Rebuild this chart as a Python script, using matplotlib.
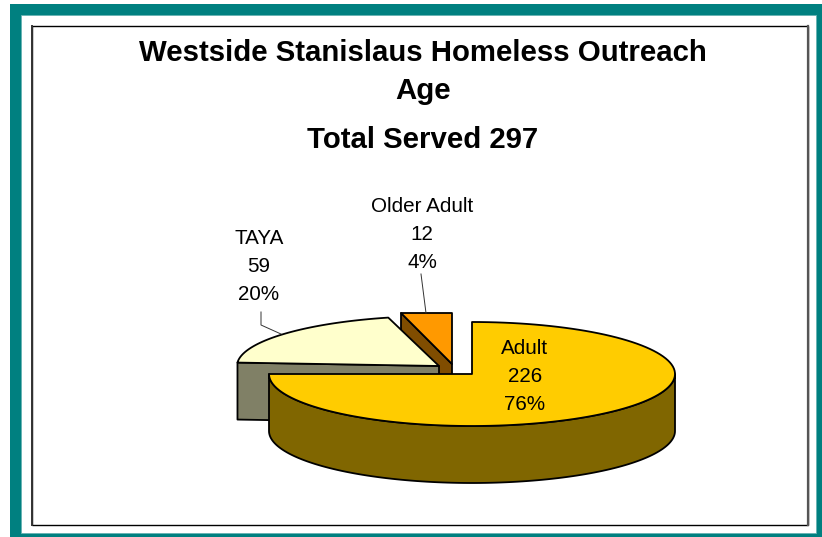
import numpy as np
import matplotlib
matplotlib.use('Agg')
import matplotlib.pyplot as plt
from matplotlib.patches import Polygon, Rectangle

plt.rcParams['font.family'] = ['Liberation Sans', 'DejaVu Sans']

title_lines = ['Westside Stanislaus Homeless Outreach', 'Age', 'Total Served 297']
categories = ['Adult', 'TAYA', 'Older Adult']
values = [226, 59, 12]
percents = [76, 20, 4]
top_colors = ['#FFCC00', '#FFFFCC', '#FF9900']
side_colors = ['#806600', '#808066', '#804D00']


# points on the rim of the pie, angle in degrees, y grows downward
def rim(cx, cy, t1, t2, rx=203, ry=52):
    t = np.radians(np.linspace(t1, t2, 120))
    return np.column_stack([cx + rx * np.cos(t), cy - ry * np.sin(t)])


def main():
    fig = plt.figure(figsize=(8.22, 5.37), dpi=100)
    ax = fig.add_axes([0, 0, 1, 1])
    ax.set_xlim(0, 822)
    ax.set_ylim(537, 0)
    ax.axis('off')

    # teal border and the chart frame
    ax.add_patch(Rectangle((10, 4), 830, 550, fc='#008080', ec='none', zorder=0))
    ax.add_patch(Rectangle((20.5, 15), 795.5, 518, fc='white', ec='#66B3B3', lw=0.6, zorder=1))
    ax.add_patch(Rectangle((32, 26), 776, 499, fc='white', ec='black', lw=1.0, zorder=2))
    ax.plot([32, 32], [26, 525], color='#333333', lw=1.4, zorder=2)
    ax.plot([808, 808], [26, 525], color='#555555', lw=1.6, zorder=2)

    # slice angles come from the values, clockwise from twelve o'clock
    sweeps = np.array(values) / sum(values) * 360
    ends = 90 - np.cumsum(sweeps)
    starts = ends + sweeps
    depth = 57
    edge = dict(ec='black', lw=1.3, joinstyle='round')

    # Older Adult, its rim is cut flat in the picture
    cx, cy = 452, 364
    left = (cx - 51, cy - 51)
    ax.add_patch(Polygon([left, (cx, cy), (cx, cy + depth), (left[0], left[1] + depth)],
                         fc=side_colors[2], zorder=3, **edge))
    ax.add_patch(Polygon([left, (cx, left[1]), (cx, cy)], fc=top_colors[2], zorder=4, **edge))

    # TAYA
    cx, cy = 439, 366
    t1, t2 = ends[0] + 360, ends[1] + 360
    arc = rim(cx, cy, t1, t2, rx=202, ry=50)
    ax.add_patch(Polygon([arc[0], (cx, cy), (cx, cy + depth), arc[0] + [0, depth]],
                         fc=side_colors[1], zorder=5, **edge))
    ax.add_patch(Polygon(np.vstack([arc, [[cx, cy]]]), fc=top_colors[1], zorder=6, **edge))

    # Adult, the perspective of the original flattens the cut edge to the quadrant line
    cx, cy = 472, 374
    front = rim(cx, cy, 180, 360)
    wall = np.vstack([front, front[::-1] + [0, depth]])
    ax.add_patch(Polygon(wall, fc=side_colors[0], zorder=7, **edge))
    adult_end = np.ceil(ends[0] / 90) * 90
    arc = rim(cx, cy, starts[0], adult_end)
    ax.add_patch(Polygon(np.vstack([arc, [[cx, cy]]]), fc=top_colors[0], zorder=8, **edge))

    # leader lines
    ax.plot([421, 426], [274, 313], color='#333333', lw=0.7, zorder=9)
    ax.plot([261, 261, 281], [312, 325, 334], color='#333333', lw=0.7, zorder=9)

    # title
    for line, y in zip(title_lines, [53, 91, 140]):
        ax.text(423, y, line, ha='center', va='center', fontsize=21.2, fontweight='bold',
                color='black', zorder=10)

    # data labels
    label_pos = [(525, 349), (259, 239), (422, 207)]
    for cat, val, pct, (x, y) in zip(categories, values, percents, label_pos):
        for i, s in enumerate([cat, str(val), f'{pct}%']):
            ax.text(x, y + i * 27.5, s, ha='center', va='center', fontsize=14.9,
                    color='black', zorder=10)

    fig.savefig('out.png', dpi=100)


if __name__ == '__main__':
    main()
